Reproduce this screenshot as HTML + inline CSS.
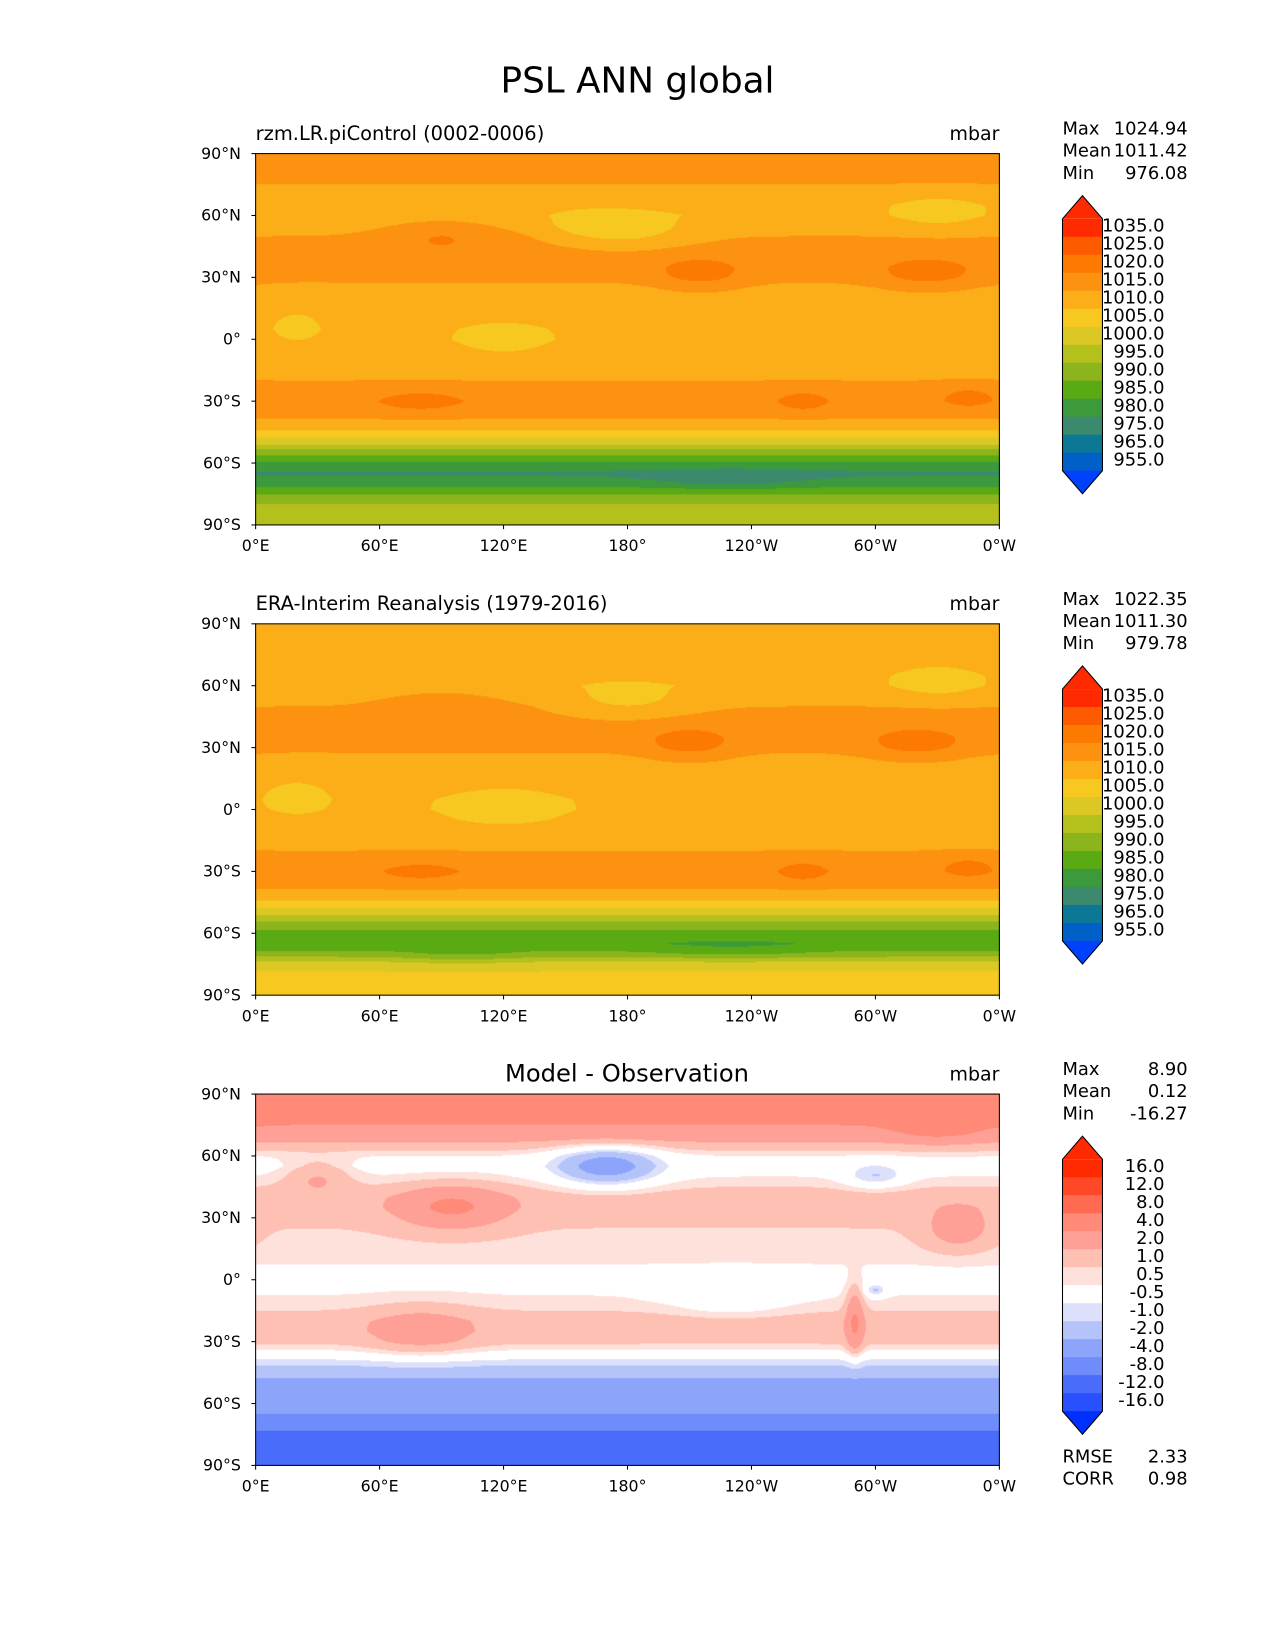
<!DOCTYPE html>
<html><head><meta charset="utf-8">
<style>
body{margin:0;background:#fff;overflow:hidden}
#page{position:relative;width:1212px;height:1569px;background:#fff;font-family:"DejaVu Sans","Liberation Sans",sans-serif;color:#000;overflow:hidden;transform:scale(1.05198);transform-origin:0 0}
.t{position:absolute;white-space:nowrap;line-height:1}
canvas{position:absolute}
</style></head>
<body>
<div id="page">
<div class="t" style="left:0;width:1212px;text-align:center;top:60px;font-size:34px">PSL ANN global</div>
<svg id="axes" width="1212" height="1569" style="position:absolute;left:0;top:0"></svg>
</div>
<script>
// ---- data ----
const latGrid=[90,85,80,75,70,65,60,55,50,45,40,35,30,25,20,15,10,5,0,-5,-10,-15,-20,-25,-30,-35,-40,-45,-50,-55,-60,-65,-70,-75,-80,-85,-90];
const modelZonal=[1017,1017,1016,1015,1013,1011,1011,1013,1015,1016,1017,1017,1016,1014,1013,1012,1011.5,1011,1011,1011.5,1012,1013,1015,1017,1018,1017,1014,1009,1002,992,984,979,983,990,995,998,999];
const obsZonal=[1014,1014,1013,1013,1012,1011,1011,1013,1015,1016,1017,1017,1016,1014,1013,1012,1011,1010.5,1010.5,1011,1012,1013,1015,1017,1018,1017,1014,1009,1002,994,988,986,992,1003,1006,1008,1008];
const diffZonal=[6,6,5,4,3,1.5,0.5,0.2,0.5,1,1.5,1.5,1.2,1,0.9,0.8,0.6,0.4,0.3,0.4,0.6,1,1.5,1.5,1.2,0.3,-0.8,-1.5,-2.5,-3.5,-3.5,-4,-6,-9,-10,-9,-8];
// blobs: [lon, lat, lonRadius, latRadius, amplitude]
const modelBlobs=[[215,32,22,8,6],[325,32,25,8,6],[180,52,30,8,-6],[330,62,20,8,-4],[90,50,30,10,5],[265,-30,15,6,4],[345,-28,15,6,4],[80,-30,25,6,4],[120,0,30,12,-2],[20,8,15,10,-2],[230,-68,40,5,-4],[160,55,20,6,-3]];
const obsBlobs=[[210,32,22,8,6],[320,32,25,8,6],[180,52,30,8,-5],[330,62,20,8,-4],[90,50,30,10,4],[265,-30,15,6,4],[345,-28,15,6,4],[80,-30,25,6,3.5],[120,0,30,12,-2],[20,8,15,10,-2],[230,-68,40,5,-3],[100,-72,30,5,-3]];
const diffBlobs=[[170,55,25,10,-3],[300,50,15,6,-1.5],[95,35,25,10,3],[80,-25,25,12,1.5],[290,-20,4,15,3],[300,-5,5,3,-1.5],[230,-10,30,10,-0.8],[340,25,15,10,2],[30,50,15,8,1.5],[330,75,20,8,2]];
const absLevels=[955,965,975,980,985,990,995,1000,1005,1010,1015,1020,1025,1035];
const absColors=['#0040ff','#0060c8','#0c7896','#3c8a6e','#3c9a3c','#5aaa14','#8cb41c','#b4c01c','#dcc824','#f6c820','#fcae18','#fd9210','#fd7a00','#fe5b00','#ff2a00'];
const absLabels=['1035.0','1025.0','1020.0','1015.0','1010.0','1005.0','1000.0','995.0','990.0','985.0','980.0','975.0','965.0','955.0'];
const diffLevels=[-16,-12,-8,-4,-2,-1,-0.5,0.5,1,2,4,8,12,16];
const diffColors=['#0030ff','#2850ff','#4a6cfa','#6e8cfa','#8ca5fa','#b4c3fa','#dce0fa','#ffffff','#ffe1dc','#ffc0b4','#ffa096','#ff8a78','#ff6a50','#ff4828','#ff2a00'];
const diffLabels=['16.0','12.0','8.0','4.0','2.0','1.0','0.5','-0.5','-1.0','-2.0','-4.0','-8.0','-12.0','-16.0'];
const latTicks=['90°N','60°N','30°N','0°','30°S','60°S','90°S'];
const lonTicks=['0°E','60°E','120°E','180°','120°W','60°W','0°W'];
const panels=[
 {top:146,zonal:modelZonal,blobs:modelBlobs,levels:absLevels,colors:absColors,labels:absLabels,sub:'rzm.LR.piControl (0002-0006)',subCenter:false,stats:[['Max','1024.94'],['Mean','1011.42'],['Min','976.08']],name:'model'},
 {top:593,zonal:obsZonal,blobs:obsBlobs,levels:absLevels,colors:absColors,labels:absLabels,sub:'ERA-Interim Reanalysis (1979-2016)',subCenter:false,stats:[['Max','1022.35'],['Mean','1011.30'],['Min','979.78']],name:'observation'},
 {top:1040,zonal:diffZonal,blobs:diffBlobs,levels:diffLevels,colors:diffColors,labels:diffLabels,sub:'Model - Observation',subCenter:true,stats:[['Max','8.90'],['Mean','0.12'],['Min','-16.27']],name:'difference'}
];
// ---- drawing ----
const page=document.getElementById('page');
const svg=document.getElementById('axes');
const NS='http://www.w3.org/2000/svg';
const X0=243,W=707,H=353;
const xScale=lon=>X0+lon/360*W;
const yScale=(top,lat)=>top+(90-lat)/180*H;
function hexRGB(h){return [parseInt(h.slice(1,3),16),parseInt(h.slice(3,5),16),parseInt(h.slice(5,7),16)];}
function zonalAt(arr,lat){let i=(90-lat)/5;let i0=Math.max(0,Math.min(35,Math.floor(i)));let f=i-i0;return arr[i0]*(1-f)+arr[i0+1]*f;}
function field(p,lon,lat){let v=zonalAt(p.zonal,lat);for(const b of p.blobs){let dl=((lon-b[0]+540)%360)-180;let dy=lat-b[1];v+=b[4]*Math.exp(-(dl*dl)/(b[2]*b[2])-(dy*dy)/(b[3]*b[3]));}return v;}
function colorIdx(levels,v){let k=0;while(k<levels.length&&v>=levels[k])k++;return k;}
function addText(txt,x,y,size,anchor,name){const t=document.createElementNS(NS,'text');t.setAttribute('x',x);t.setAttribute('y',y);t.setAttribute('font-size',size);t.setAttribute('text-anchor',anchor||'start');t.setAttribute('font-family','DejaVu Sans, Liberation Sans, sans-serif');t.textContent=txt;


svg.appendChild(t);return t;}
function addLine(x1,y1,x2,y2,name){const l=document.createElementNS(NS,'line');l.setAttribute('x1',x1);l.setAttribute('y1',y1);l.setAttribute('x2',x2);l.setAttribute('y2',y2);l.setAttribute('stroke','#000');l.setAttribute('stroke-width','1');


svg.appendChild(l);}
panels.forEach((p,pi)=>{
 const cv=document.createElement('canvas');
 cv.width=W;cv.height=H;cv.style.left=X0+'px';cv.style.top=p.top+'px';
 
 
 page.insertBefore(cv,svg);
 const ctx=cv.getContext('2d');const img=ctx.createImageData(W,H);
 const rgb=p.colors.map(hexRGB);
 for(let py=0;py<H;py++){const lat=90-(py+0.5)/H*180;for(let px=0;px<W;px++){const lon=(px+0.5)/W*360;const c=rgb[colorIdx(p.levels,field(p,lon,lat))];const o=(py*W+px)*4;img.data[o]=c[0];img.data[o+1]=c[1];img.data[o+2]=c[2];img.data[o+3]=255;}}
 ctx.putImageData(img,0,0);
 const fr=document.createElementNS(NS,'rect');fr.setAttribute('x',X0);fr.setAttribute('y',p.top);fr.setAttribute('width',W);fr.setAttribute('height',H);fr.setAttribute('fill','none');fr.setAttribute('stroke','#000');
 
 
 svg.appendChild(fr);
 latTicks.forEach((l,i)=>{const y=yScale(p.top,90-i*30);addLine(X0-4,y,X0,y,'lat-tick');addText(l,X0-14,y+5,15,'end','lat-tick-label');});
 lonTicks.forEach((l,i)=>{const x=xScale(i*60);addLine(x,p.top+H,x,p.top+H+4,'lon-tick');addText(l,x,p.top+H+25,15,'middle','lon-tick-label');});
 if(p.subCenter)addText(p.sub,596,p.top-12,23,'middle','panel-title');else addText(p.sub,X0,p.top-13,18.5,'start','panel-title');
 addText('mbar',950,p.top-13,18,'end','units-label');
 p.stats.forEach((s,i)=>{addText(s[0],1010,p.top-18+i*21,17,'start','stat-name');addText(s[1],1129,p.top-18+i*21,17,'end','stat-value');});
 // colorbar
 const cbTop=p.top+40,bx=1010,bw=38,bh=17.1,tri=22;
 const nB=p.labels.length;
 const up=document.createElementNS(NS,'polygon');up.setAttribute('points',`${bx},${cbTop+tri} ${bx+bw/2},${cbTop} ${bx+bw},${cbTop+tri}`);up.setAttribute('fill',p.colors[p.colors.length-1]);
 
 
 svg.appendChild(up);
 for(let k=0;k<nB;k++){const r=document.createElementNS(NS,'rect');r.setAttribute('x',bx);r.setAttribute('y',cbTop+tri+k*bh);r.setAttribute('width',bw);r.setAttribute('height',bh+0.5);r.setAttribute('fill',p.colors[p.colors.length-1-k]);
 
 
 svg.appendChild(r);
 addText(p.labels[k],1107,cbTop+tri+k*bh+12,17,'end','colorbar-label');}
 const bot=cbTop+tri+nB*bh;
 const dn=document.createElementNS(NS,'polygon');dn.setAttribute('points',`${bx},${bot} ${bx+bw/2},${bot+tri} ${bx+bw},${bot}`);dn.setAttribute('fill',p.colors[0]);
 
 
 svg.appendChild(dn);
 const ol=document.createElementNS(NS,'polygon');ol.setAttribute('points',`${bx},${cbTop+tri} ${bx+bw/2},${cbTop} ${bx+bw},${cbTop+tri} ${bx+bw},${bot} ${bx+bw/2},${bot+tri} ${bx},${bot}`);ol.setAttribute('fill','none');ol.setAttribute('stroke','#000');
 
 
 svg.appendChild(ol);
 if(pi===2){addText('RMSE',1010,1390,17,'start','rmse-label');addText('2.33',1129,1390,17,'end','rmse-value');addText('CORR',1010,1411,17,'start','corr-label');addText('0.98',1129,1411,17,'end','corr-value');}
});
</script>
</body></html>
